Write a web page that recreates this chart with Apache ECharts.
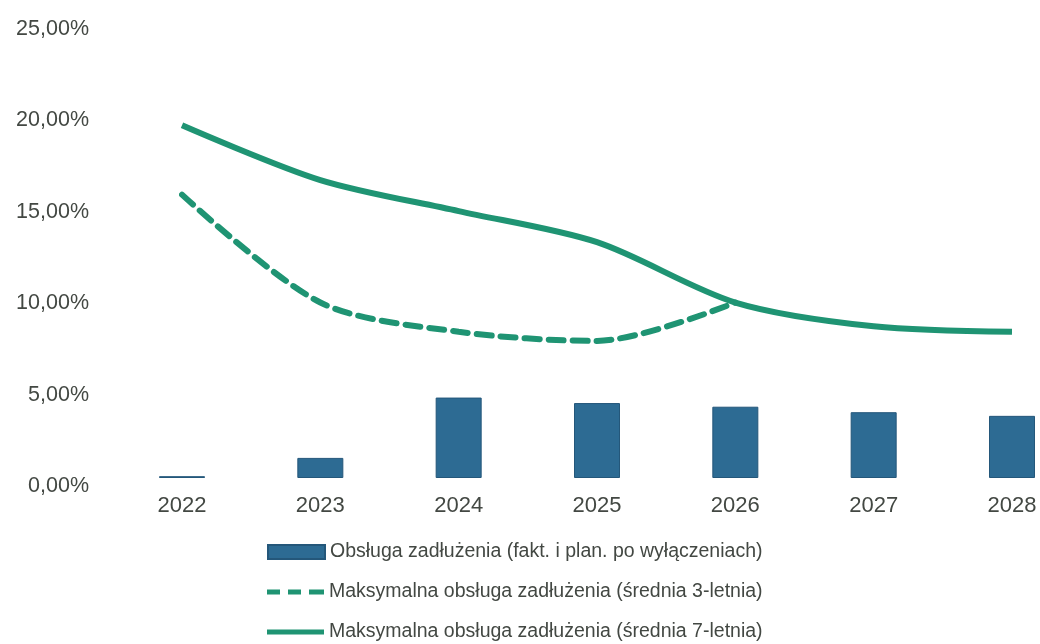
<!DOCTYPE html>
<html><head><meta charset="utf-8">
<script src="https://cdn.jsdelivr.net/npm/echarts@6/dist/echarts.min.js"></script>
<style>html,body{margin:0;padding:0;background:#fff}#c{width:1040px;height:644px}</style>
</head><body><div id="c"></div>
<script>
const years = ['2022','2023','2024','2025','2026','2027','2028'];
const debtService = [0.1, 1.1, 4.4, 4.1, 3.9, 3.6, 3.4];
const max3 = [15.5, 9.6, 8.0, 7.5, 9.6, null, null];
const max7 = [19.3, 16.3, 14.6, 12.9, 9.6, 8.3, 8.0];
const names = ['Obsługa zadłużenia (fakt. i plan. po wyłączeniach)',
  'Maksymalna obsługa zadłużenia (średnia 3-letnia)',
  'Maksymalna obsługa zadłużenia (średnia 7-letnia)'];

const textColor = '#434843';
const green = '#1f9473';
const legendText = {fontFamily: 'Liberation Sans', fontSize: 19.5, color: textColor};
const chart = echarts.init(document.getElementById('c'));
chart.setOption({
  animation: false,
  grid: {left: 182, right: 28, top: 21, bottom: 166},
  legend: [
    {left: 267, top: 542, padding: 0, itemWidth: 57, itemHeight: 14, textStyle: legendText,
     data: [{name: names[0], icon: 'rect'}]},
    {left: 267, top: 582, padding: 0, itemWidth: 57, itemHeight: 5, textStyle: legendText,
     symbolKeepAspect: false,
     data: [{name: names[1], icon: 'path://M0,0h13v5h-13z M21,0h13v5h-13z M42,0h15v5h-15z'}]},
    {left: 267, top: 622, padding: 0, itemWidth: 57, itemHeight: 5, textStyle: legendText,
     symbolKeepAspect: false,
     data: [{name: names[2], icon: 'rect'}]}
  ],
  xAxis: {
    type: 'category', data: years, boundaryGap: false,
    axisLine: {show: false}, axisTick: {show: false},
    axisLabel: {fontFamily: 'Liberation Sans', fontSize: 22, color: textColor, margin: 17}
  },
  yAxis: {
    type: 'value', min: 0, max: 25, interval: 5,
    splitLine: {show: false}, axisLine: {show: false}, axisTick: {show: false},
    axisLabel: {fontFamily: 'Liberation Sans', fontSize: 21.5, color: textColor, margin: 93,
      verticalAlign: 'top', lineHeight: 16,
      formatter: v => v.toFixed(2).replace('.', ',') + '%'}
  },
  series: [
    {name: names[0], type: 'bar', data: debtService, barWidth: 46,
     itemStyle: {color: '#2d6b93', borderColor: '#24577a', borderWidth: 1}},
    {name: names[1], type: 'line', data: max3, symbol: 'none', smooth: 0.3,
     lineStyle: {color: green, width: 6, type: [15, 9], cap: 'round'},
     itemStyle: {color: green}},
    {name: names[2], type: 'line', data: max7, symbol: 'none', smooth: 0.3,
     lineStyle: {color: green, width: 6},
     itemStyle: {color: green}}
  ]
});
</script></body></html>
